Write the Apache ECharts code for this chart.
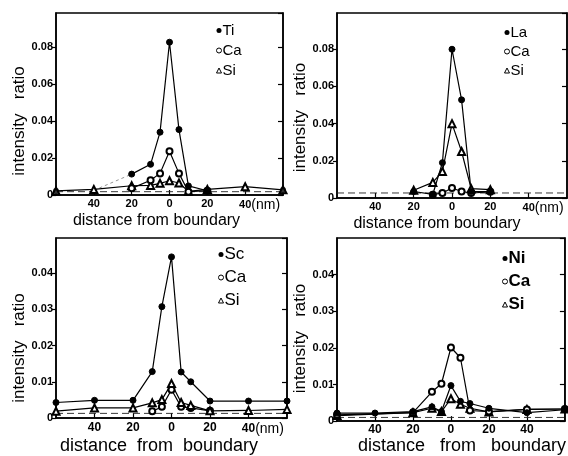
<!DOCTYPE html>
<html><head><meta charset="utf-8">
<script src="https://cdn.jsdelivr.net/npm/echarts@6/dist/echarts.min.js"></script>
<style>html,body{margin:0;padding:0;background:#fff}#c{width:568px;height:456px}</style>
</head><body><div id="c"></div>
<script>
// ---- Panel 1 : Ti ----
const ti_x = [-20, -10, -5, 0, 5, 10, 20];
const ti_y = [0.0113, 0.0166, 0.034, 0.0827, 0.0354, 0.0049, 0.0023];
const tiEnd_x = [-60, 60];
const tiEnd_y = [0.0022, 0.0027];
const tiGuide_x = [-40, -20];
const tiGuide_y = [0.0025, 0.0113];
const ca1_x = [-20, -10, -5, 0, 5, 10, 20];
const ca1_y = [0.0036, 0.008, 0.0117, 0.0237, 0.0117, 0.0018, 0.0023];
const si1_x = [-60, -40, -20, -10, -5, 0, 5, 10, 20, 40, 60];
const si1_y = [0.0022, 0.003, 0.005, 0.0052, 0.0063, 0.0077, 0.0065, 0.002, 0.003, 0.0045, 0.0028];
const base1 = 0.0018;
// ---- Panel 2 : La ----
const la_x = [-20, -10, -5, 0, 5, 10, 20];
const la_y = [0.0035, 0.002, 0.019, 0.08, 0.0528, 0.0035, 0.0035];
const ca2_x = [-10, -5, 0, 5, 10, 20];
const ca2_y = [0.0018, 0.0027, 0.0054, 0.0035, 0.0027, 0.0033];
const si2_x = [-20, -10, -5, 0, 5, 10, 20];
const si2_y = [0.0042, 0.0084, 0.0143, 0.04, 0.025, 0.005, 0.0045];
const base2 = 0.0027;
// ---- Panel 3 : Sc ----
const sc_x = [-60, -40, -20, -10, -5, 0, 5, 10, 20, 40, 60];
const sc_y = [0.0043, 0.0049, 0.0049, 0.0128, 0.0307, 0.0444, 0.0127, 0.01, 0.0047, 0.0047, 0.0047];
const ca3_x = [-10, -5, 0, 5, 10, 20];
const ca3_y = [0.0019, 0.0031, 0.0078, 0.0031, 0.0028, 0.002];
const si3_x = [-60, -40, -20, -10, -5, 0, 5, 10, 20, 40, 60];
const si3_y = [0.0019, 0.0028, 0.0028, 0.0042, 0.0051, 0.0095, 0.0043, 0.0035, 0.002, 0.0021, 0.0024];
const base3 = 0.0013;
// ---- Panel 4 : Ni ----
const ni_x = [-60, -40, -20, -10, -5, 0, 5, 10, 20, 40, 60];
const ni_y = [0.0022, 0.0022, 0.0026, 0.0039, 0.0026, 0.0097, 0.0054, 0.0048, 0.0035, 0.0023, 0.0031];
const ca4_x = [-60, -20, -10, -5, 0, 5, 10, 20, 40, 60];
const ca4_y = [0.0017, 0.0023, 0.008, 0.0102, 0.0201, 0.0173, 0.0029, 0.0026, 0.0032, 0.0033];
const si4_x = [-60, -20, -10, -5, 0, 5, 10, 20, 40, 60];
const si4_y = [0.0015, 0.0023, 0.0035, 0.0026, 0.0061, 0.0046, 0.0035, 0.0025, 0.0032, 0.0033];
const base4 = 0.001;
// axis extents / ticks
const xMin = -60, xMax = 60, xStep = 20;
const yMax = [0.0985, 0.0995, 0.0496, 0.05];
const yStep = [0.02, 0.02, 0.01, 0.01];
const xName = ['distance from boundary', 'distance from boundary', 'distance  from  boundary', 'distance   from   boundary'];
const yName = 'intensity   ratio';
const legendNames = [['Ti', 'Ca', 'Si'], ['La', 'Ca', 'Si'], ['Sc', 'Ca', 'Si'], ['Ni', 'Ca', 'Si']];

const zip = (xs, ys) => xs.map((x, i) => [x, ys[i]]);
const SANS = '"Liberation Sans", Arial, sans-serif';

const grids = [
  {left: 56, top: 13, width: 227, height: 182},
  {left: 337, top: 13, width: 230, height: 185},
  {left: 56, top: 238, width: 231, height: 187},
  {left: 337, top: 238, width: 230, height: 192}
].map(g => Object.assign({show: true, borderColor: '#000', borderWidth: 1.5, backgroundColor: 'transparent'}, g));

const xLab = [
  {size: 11, margin: 3, nm: true},
  {size: 11, margin: 3, nm: true},
  {size: 12, margin: 4, nm: true},
  {size: 12, margin: 3, nm: false}
];
const xNameCfg = [
  {gap: 15, pad: [0, 26, 0, 0], size: 16},
  {gap: 15, pad: [0, 30, 0, 0], size: 16},
  {gap: 13, pad: [0, 25, 0, 0], size: 18},
  {gap: 9, pad: [0, 0, 0, 22], size: 18}
];
const yNameCfg = [
  {gap: 27, pad: [0, 34, 0, 0]},
  {gap: 27, pad: [0, 24, 0, 0]},
  {gap: 27, pad: [0, 40, 0, 0]},
  {gap: 27, pad: [0, 18, 0, 0]}
];

const xAxes = [0, 1, 2, 3].map(i => ({
  type: 'value', gridIndex: i, min: xMin, max: xMax, interval: xStep,
  axisLine: {show: true, onZero: false, lineStyle: {color: '#000', width: 1.5}},
  axisTick: {show: true, inside: true, length: 5, lineStyle: {color: '#000', width: 1.2}},
  splitLine: {show: false},
  axisLabel: {
    margin: xLab[i].margin, color: '#000', fontSize: xLab[i].size, fontWeight: 'bold', fontFamily: SANS,
    showMinLabel: false, showMaxLabel: false,
    formatter: v => {
      if (v === xMin || v === xMax) return '';
      if (v === 40 && xLab[i].nm) return '{h|(nm)}40{n|(nm)}';
      return String(Math.abs(v));
    },
    rich: {
      h: {color: 'transparent', fontSize: 14, fontWeight: 'normal', fontFamily: SANS},
      n: {color: '#000', fontSize: 14, fontWeight: 'normal', fontFamily: SANS}
    }
  },
  name: xName[i], nameLocation: 'middle', nameGap: xNameCfg[i].gap,
  nameTextStyle: {color: '#000', fontSize: xNameCfg[i].size, fontFamily: SANS, padding: xNameCfg[i].pad}
}));

const yAxes = [];
[0, 1, 2, 3].forEach(i => {
  const st = yStep[i];
  yAxes.push({
    type: 'value', gridIndex: i, min: 0, max: yMax[i], interval: st, position: 'left',
    axisLine: {show: true, onZero: false, lineStyle: {color: '#000', width: 1.5}},
    axisTick: {show: true, inside: false, length: 4, lineStyle: {color: '#000', width: 1.2}},
    splitLine: {show: false},
    axisLabel: {
      margin: 3, color: '#000', fontSize: 11, fontWeight: 'bold', fontFamily: SANS,
      showMaxLabel: false,
      formatter: v => {
        if (v === 0) return '0';
        const k = v / st;
        return Math.abs(k - Math.round(k)) < 1e-6 ? v.toFixed(2) : '';
      }
    },
    name: yName, nameLocation: 'middle', nameGap: yNameCfg[i].gap, nameRotate: 90,
    nameTextStyle: {color: '#000', fontSize: 17, fontFamily: SANS, padding: yNameCfg[i].pad}
  });
  yAxes.push({
    type: 'value', gridIndex: i, min: 0, max: yMax[i], interval: st, position: 'right',
    axisLine: {show: true, onZero: false, lineStyle: {color: '#000', width: 1.5}},
    axisTick: {show: true, inside: true, length: 5, lineStyle: {color: '#000', width: 1.2}},
    axisLabel: {show: false}, splitLine: {show: false}
  });
});

function ser(name, gi, xs, ys, kind) {
  const s = {
    name: name, type: 'line', xAxisIndex: gi, yAxisIndex: gi * 2, data: zip(xs, ys),
    lineStyle: {color: '#000', width: 1.2}, symbolSize: 6, z: 3,
    itemStyle: {color: '#000', borderColor: '#000', borderWidth: 1}
  };
  if (kind === 'filled') { s.symbol = 'circle'; s.symbolSize = 6; }
  if (kind === 'open') { s.symbol = 'emptyCircle'; s.symbolSize = 6; }
  if (kind === 'tri') { s.symbol = 'emptyTriangle'; s.symbolSize = 7; }
  return s;
}
function baseline(gi, v) {
  return {
    name: '_base' + gi, type: 'line', xAxisIndex: gi, yAxisIndex: gi * 2, silent: true,
    data: zip([xMin, xMax], [v, v]), symbol: 'none', z: 1,
    lineStyle: {color: '#222', width: 0.9, type: [7, 4]}
  };
}

const series = [
  baseline(0, base1),
  {name: '_guide', type: 'line', xAxisIndex: 0, yAxisIndex: 0, data: zip(tiGuide_x, tiGuide_y), symbol: 'none', z: 1,
   lineStyle: {color: '#777', width: 0.8, type: [3, 3]}},
  ser('Si', 0, si1_x, si1_y, 'tri'),
  ser('Ca', 0, ca1_x, ca1_y, 'open'),
  ser('Ti', 0, ti_x, ti_y, 'filled'),
  {name: 'Ti', type: 'scatter', xAxisIndex: 0, yAxisIndex: 0, data: zip(tiEnd_x, tiEnd_y), symbol: 'circle', symbolSize: 6,
   itemStyle: {color: '#000'}, z: 4},

  baseline(1, base2),
  ser('Ca', 1, ca2_x, ca2_y, 'open'),
  ser('Si', 1, si2_x, si2_y, 'tri'),
  ser('La', 1, la_x, la_y, 'filled'),

  baseline(2, base3),
  ser('Ca', 2, ca3_x, ca3_y, 'open'),
  ser('Si', 2, si3_x, si3_y, 'tri'),
  ser('Sc', 2, sc_x, sc_y, 'filled'),

  baseline(3, base4),
  ser('Si', 3, si4_x, si4_y, 'tri'),
  ser('Ca', 3, ca4_x, ca4_y, 'open'),
  ser('Ni', 3, ni_x, ni_y, 'filled')
];

const legCfg = [
  {left: 216, top: 22, gap: 3, size: 15, weight: 'normal'},
  {left: 504, top: 24, gap: 2, size: 15, weight: 'normal'},
  {left: 218, top: 245, gap: 4, size: 17, weight: 'normal'},
  {left: 502, top: 249, gap: 4, size: 17, weight: 'bold'}
];
const legends = legendNames.map((names, i) => ({
  orient: 'vertical', left: legCfg[i].left, top: legCfg[i].top, itemGap: legCfg[i].gap,
  itemWidth: 5, itemHeight: 5, selectedMode: false, padding: 0,
  textStyle: {color: '#000', fontSize: legCfg[i].size, fontFamily: SANS, fontWeight: legCfg[i].weight,
              lineHeight: legCfg[i].size + 2, padding: [0, 0, 0, -4]},
  data: [
    {name: names[0], icon: 'circle', itemStyle: {color: '#000', borderWidth: 0}},
    {name: names[1], icon: 'circle', itemStyle: {color: '#fff', borderColor: '#000', borderWidth: 1}},
    {name: names[2], icon: 'triangle', itemStyle: {color: '#fff', borderColor: '#000', borderWidth: 1}}
  ]
}));

const chart = echarts.init(document.getElementById('c'), null, {renderer: 'canvas'});
chart.setOption({
  animation: false, backgroundColor: '#fff',
  grid: grids, xAxis: xAxes, yAxis: yAxes, legend: legends, series: series
});
</script></body></html>
